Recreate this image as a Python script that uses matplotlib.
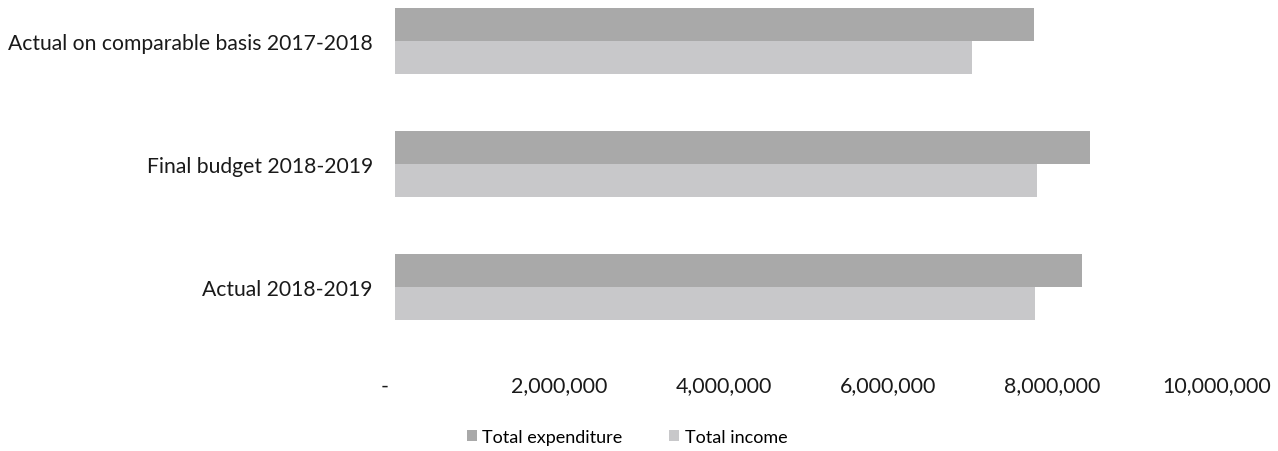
import matplotlib
matplotlib.use("Agg")
import matplotlib.pyplot as plt
import matplotlib.transforms as mtransforms
import numpy as np
from matplotlib.ticker import FuncFormatter

categories = ["Actual on comparable basis 2017-2018", "Final budget 2018-2019", "Actual 2018-2019"]
total_expenditure = [7770000, 8450000, 8360000]
total_income = [7020000, 7810000, 7790000]
xticks = [0, 2000000, 4000000, 6000000, 8000000, 10000000]

plt.rcParams['font.family'] = ['Lato', 'DejaVu Sans']

W, H = 1278, 452
fig = plt.figure(figsize=(W / 100, H / 100), dpi=100)
# axes in pixel coordinates: left 395, right 1217, top 0, bottom 350
ax = fig.add_axes([395 / W, 1 - 350 / H, (1217 - 395) / W, 350 / H])

y = np.arange(len(categories))
h = 0.27
exp_color = "#a9a9a9"
inc_color = "#c8c8ca"
ax.barh(y - h / 2, total_expenditure, height=h, color=exp_color, label="Total expenditure")
ax.barh(y + h / 2, total_income, height=h, color=inc_color, label="Total income")

ax.set_xlim(0, 10000000)
ax.set_ylim(2 + 62 / 123, -42 / 123)
ax.set_yticks(y)
ax.set_yticklabels(categories, fontsize=15.2, color="#1a1a1a")
ax.set_xticks(xticks)
ax.xaxis.set_major_formatter(FuncFormatter(lambda v, p: "-" if v == 0 else f"{int(v):,}"))
ax.tick_params(axis='x', labelsize=15.4, length=0, pad=19, colors="#1a1a1a")
ax.tick_params(axis='y', length=0, pad=16)
for s in ax.spines.values():
    s.set_visible(False)

fig.canvas.draw()
lbl0 = ax.get_xticklabels()[0]
lbl0.set_transform(lbl0.get_transform() + mtransforms.ScaledTranslation(-10 / 100, 0, fig.dpi_scale_trans))

leg = fig.legend(loc="center", bbox_to_anchor=(627 / W, 1 - 438 / H), ncol=2, frameon=False,
                 fontsize=13, handlelength=0.55, handleheight=0.55, handletextpad=0.3,
                 columnspacing=2.6)

fig.savefig("out.png", dpi=100, facecolor="white")
